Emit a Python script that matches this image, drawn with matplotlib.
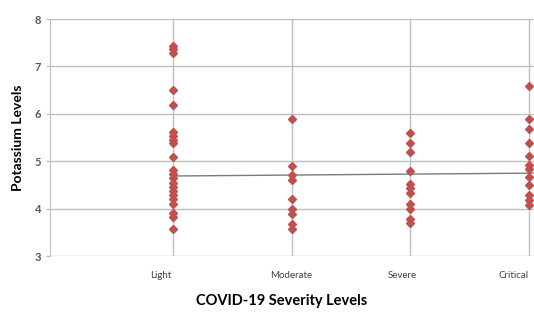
import numpy as np
import matplotlib.pyplot as plt
import matplotlib.transforms as mtransforms

plt.rcParams['font.family'] = ['Lato', 'DejaVu Sans']

categories = ['Light', 'Moderate', 'Severe', 'Critical']
light = [7.43, 7.36, 7.29, 6.50, 6.19, 5.62, 5.53, 5.45, 5.38, 5.10,
         4.81, 4.73, 4.64, 4.55, 4.46, 4.38, 4.29, 4.20, 4.11, 3.90, 3.82, 3.58]
moderate = [5.90, 4.91, 4.71, 4.60, 4.20, 4.00, 3.88, 3.67, 3.58]
severe = [5.60, 5.39, 5.19, 4.79, 4.52, 4.43, 4.34, 4.10, 4.00, 3.78, 3.69]
critical = [6.59, 5.89, 5.68, 5.39, 5.11, 4.92, 4.84, 4.67, 4.50, 4.29, 4.18, 4.08]
trend_ends = [4.69, 4.75]  # trendline values at Light and Critical
label_pos = [0.90, 2.0, 2.93, 3.87]  # where the category labels sit

groups = [light, moderate, severe, critical]

fig = plt.figure(figsize=(5.34, 3.12), dpi=100)
ax = fig.add_axes([0.094, 0.179, 0.906, 0.760])

for i, vals in enumerate(groups):
    ax.plot([i + 1] * len(vals), vals, linestyle='none', marker='D',
            markersize=4.2, color='#C0504D', zorder=3, clip_on=False)

ax.plot([1, 4.1], [trend_ends[0], trend_ends[0] + (trend_ends[1] - trend_ends[0]) * 3.1 / 3],
        color='#7a7a7a', linewidth=1.0, zorder=2)

ax.set_xlim(-0.03, 4.04)
ax.set_ylim(3, 8)
ax.set_xticks([1, 2, 3, 4])
ax.set_xticklabels([])
ax.set_yticks(range(3, 9))
ax.tick_params(axis='y', labelsize=8, colors='#595959', length=3, color='#bfbfbf', width=1)
ax.tick_params(axis='x', length=0)
for lbl in ax.get_yticklabels():
    lbl.set_fontweight('bold')

trans = mtransforms.blended_transform_factory(ax.transData, ax.transAxes)
for pos, name in zip(label_pos, categories):
    ax.text(pos, -0.08, name, transform=trans, ha='center', va='center',
            fontsize=7, color='#404040')

ax.grid(True, color='#bfbfbf', linewidth=1)
ax.set_axisbelow(True)
for s in ['top', 'right', 'bottom']:
    ax.spines[s].set_visible(False)
ax.spines['left'].set_color('#bfbfbf')

ax.set_xlabel('COVID-19 Severity Levels', fontsize=10.5, fontweight='bold')
ax.xaxis.set_label_coords(0.479, -0.19)
ax.xaxis.label.set_va('center')
ax.set_ylabel('Potassium Levels', fontsize=10, fontweight='bold', labelpad=8)

fig.savefig('out.png', dpi=100)
